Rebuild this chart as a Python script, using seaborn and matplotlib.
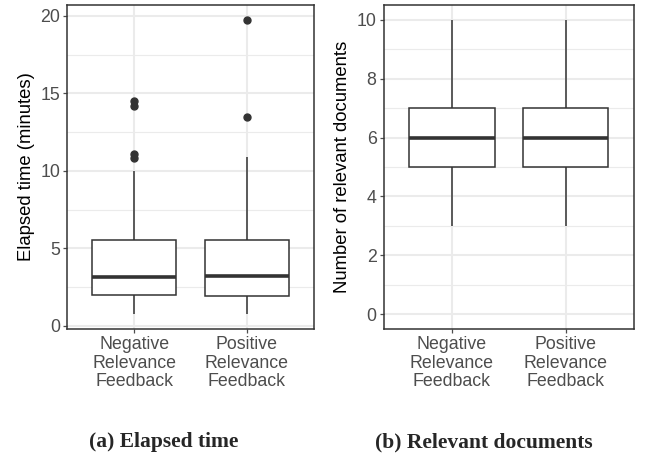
import matplotlib
matplotlib.use("Agg")
import matplotlib.pyplot as plt
import numpy as np
import pandas as pd
import seaborn as sns

# Categories (shared by both panels)
conditions = ["Negative\nRelevance\nFeedback", "Positive\nRelevance\nFeedback"]

elapsed_negative = [0.75, 1.1, 1.4, 1.7, 1.9, 2.02, 2.3, 2.6, 2.8, 3.0, 3.16,
                    3.6, 4.1, 4.6, 5.1, 5.51, 10.0, 10.8, 11.1, 14.2, 14.5]
elapsed_positive = [0.75, 1.1, 1.4, 1.6, 1.8, 1.96, 2.3, 2.6, 2.9, 3.1, 3.24,
                    3.7, 4.2, 4.7, 5.2, 5.55, 7.0, 8.8, 10.87, 13.5, 19.75]

# Number of relevant documents samples
docs_negative = [3, 4, 5, 5, 6, 6, 7, 8, 10]
docs_positive = [3, 4, 5, 5, 6, 6, 7, 8, 10]

elapsed_df = pd.DataFrame({
    "condition": [conditions[0]] * len(elapsed_negative) + [conditions[1]] * len(elapsed_positive),
    "value": elapsed_negative + elapsed_positive,
})
docs_df = pd.DataFrame({
    "condition": [conditions[0]] * len(docs_negative) + [conditions[1]] * len(docs_positive),
    "value": docs_negative + docs_positive,
})

sns.set_theme(style="white")
plt.rcParams["font.family"] = ["Liberation Sans", "DejaVu Sans"]

GRID = "#EBEBEB"
DARK = "#333333"
TICKCOL = "#4D4D4D"

fig = plt.figure(figsize=(6.46, 4.57), dpi=100)
ax1 = fig.add_axes([67 / 646, 1 - 329 / 457, (314 - 67) / 646, (329 - 5) / 457])
ax2 = fig.add_axes([383.5 / 646, 1 - 329 / 457, (634 - 383.5) / 646, (329 - 5) / 457])


def draw_panel(ax, data, ylabel, ylim, major, minor):
    ax.set_axisbelow(True)
    for m in minor:
        ax.axhline(m, color=GRID, lw=0.8, zorder=0)
    for m in major:
        ax.axhline(m, color=GRID, lw=1.5, zorder=0)
    for xpos in range(len(conditions)):
        ax.axvline(xpos, color=GRID, lw=1.5, zorder=0)
    sns.boxplot(data=data, x="condition", y="value", order=conditions, ax=ax,
                color="white", linecolor=DARK, linewidth=1.1, width=0.75,
                showcaps=False,
                medianprops=dict(linewidth=2.6, color=DARK),
                flierprops=dict(marker="o", markerfacecolor=DARK,
                                markeredgecolor=DARK, markersize=5))
    ax.set_xlim(-0.6, 1.6)
    ax.set_ylim(*ylim)
    ax.set_yticks(major)
    ax.set_xlabel("")
    ax.set_ylabel(ylabel, fontsize=13.3, color="black", labelpad=4)
    ax.tick_params(axis="both", length=3, width=0.9, color=TICKCOL,
                   labelcolor=TICKCOL, labelsize=12.8, pad=2,
                   left=True, bottom=True)
    for lab in ax.get_xticklabels():
        lab.set_linespacing(1.12)
    for sp in ax.spines.values():
        sp.set_color(DARK)
        sp.set_linewidth(1.1)


draw_panel(ax1, elapsed_df, "Elapsed time (minutes)", (-0.2, 20.7),
           [0, 5, 10, 15, 20], [2.5, 7.5, 12.5, 17.5])
draw_panel(ax2, docs_df, "Number of relevant documents", (-0.5, 10.5),
           [0, 2, 4, 6, 8, 10], [1, 3, 5, 7, 9])

fig.text(164 / 646, 1 - 442 / 457, "(a) Elapsed time", ha="center", va="center",
         fontsize=15.5, fontweight="bold", family=["Liberation Serif", "DejaVu Serif"])
fig.text(484 / 646, 1 - 442 / 457, "(b) Relevant documents", ha="center", va="center",
         fontsize=15.5, fontweight="bold", family=["Liberation Serif", "DejaVu Serif"])

fig.savefig("out.png", dpi=100)
